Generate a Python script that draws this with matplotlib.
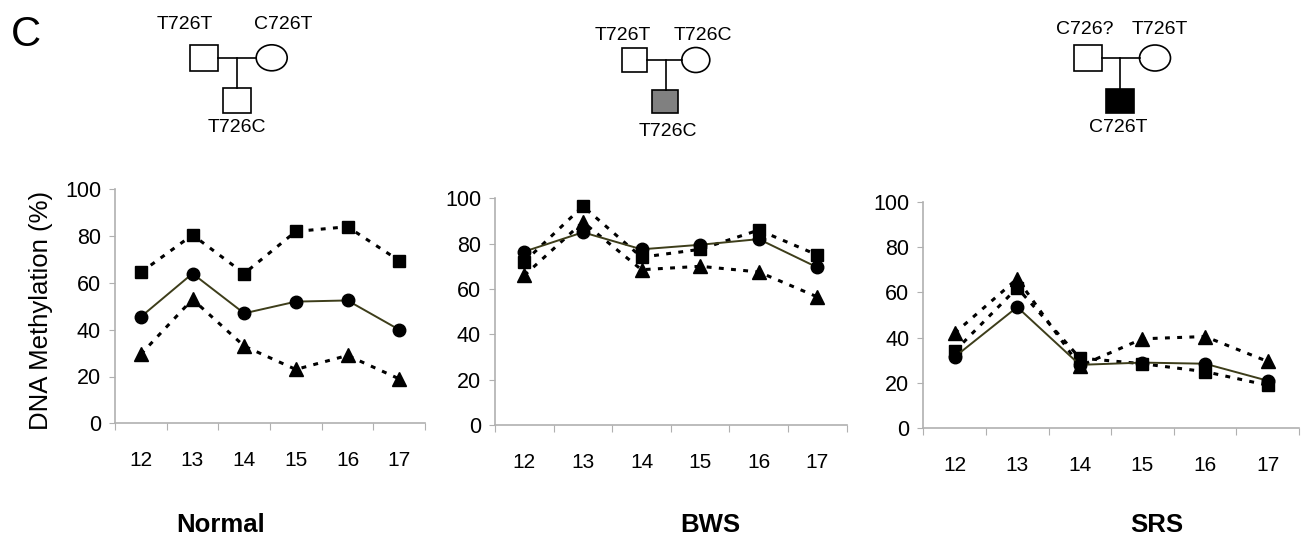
import matplotlib
matplotlib.use("Agg")
import matplotlib.pyplot as plt
from matplotlib.patches import Rectangle, Ellipse

plt.rcParams['font.family'] = ['Liberation Sans', 'DejaVu Sans']

W, H = 1307, 538

positions = ["12", "13", "14", "15", "16", "17"]
panel_titles = ["Normal", "BWS", "SRS"]

normal_sq = [64.5, 80.5, 64, 82, 84, 69.5]
normal_ci = [45.5, 64, 47, 52, 52.5, 40]
normal_tr = [29.5, 53, 33, 23, 29, 19]

bws_sq = [72, 96.5, 74, 77.5, 86, 75]
bws_ci = [76.5, 85, 77.5, 79.5, 82, 69.5]
bws_tr = [66, 89.5, 68.5, 70, 67.5, 56.5]

srs_sq = [34, 62, 31, 28.5, 25, 19]
srs_ci = [31.5, 53.5, 28, 29, 28.5, 21]
srs_tr = [42, 66, 27.5, 39.5, 40.5, 29.5]

yticks = [0, 20, 40, 60, 80, 100]

pedigree_labels = [("T726T", "C726T", "T726C"),
                   ("T726T", "T726C", "T726C"),
                   ("C726?", "T726T", "C726T")]
child_fill = ["white", "#808080", "black"]

fig = plt.figure(figsize=(W / 100, H / 100), dpi=100)

def fbox(l, r, b, t):
    return [l / W, 1 - b / H, (r - l) / W, (b - t) / H]

boxes = [fbox(115, 425, 423.3, 189.3),
         fbox(495, 846.7, 425, 198.3),
         fbox(923.3, 1299, 428.3, 201.7)]
data = [(normal_sq, normal_ci, normal_tr),
        (bws_sq, bws_ci, bws_tr),
        (srs_sq, srs_ci, srs_tr)]

spine_col = "#b0b0b0"
dot_ls = (0, (1.6, 2.4))
for box, (sq, ci, tr) in zip(boxes, data):
    ax = fig.add_axes(box)
    x = list(range(len(positions)))
    ax.plot(x, tr, linestyle=dot_ls, color="black", lw=2.2,
            marker="^", ms=10, mfc="black", mec="black", zorder=3)
    ax.plot(x, sq, linestyle=dot_ls, color="black", lw=2.2,
            marker="s", ms=8, mfc="black", mec="black", zorder=3)
    ax.plot(x, ci, linestyle="-", color="#3d3d1a", lw=1.4,
            marker="o", ms=9, mfc="black", mec="black", zorder=4)
    ax.set_xlim(-0.5, len(positions) - 0.5)
    ax.set_ylim(0, 100)
    ax.set_xticks([i - 0.5 for i in range(len(positions) + 1)])
    ax.set_xticklabels([])
    ax.set_xticks(x, minor=True)
    ax.set_xticklabels(positions, minor=True, fontsize=15)
    ax.tick_params(axis="x", which="major", length=5, color=spine_col, direction="out")
    ax.tick_params(axis="x", which="minor", length=0, pad=20)
    ax.set_yticks(yticks)
    ax.set_yticklabels([str(v) for v in yticks], fontsize=15.5)
    ax.tick_params(axis="y", length=4, color=spine_col, pad=6)
    for s in ["top", "right"]:
        ax.spines[s].set_visible(False)
    for s in ["left", "bottom"]:
        ax.spines[s].set_color(spine_col)
        ax.spines[s].set_linewidth(1.2)
    ax.patch.set_alpha(0)

# overlay for pedigrees and texts
ov = fig.add_axes([0, 0, 1, 1], zorder=-1)
ov.set_xlim(0, W)
ov.set_ylim(H, 0)
ov.axis("off")

ped_geo = [
    dict(f=(190, 218, 45, 70.7), c=(271.7, 57.8, 31, 26), k=(223, 251, 88, 113),
         vx=237, lf=(185, 24.5), lm=(283, 24.5), lk=(237, 128)),
    dict(f=(621.7, 647.3, 48, 72), c=(695.8, 60, 28, 25), k=(652, 677.7, 90, 113),
         vx=666, lf=(623, 35), lm=(703, 35), lk=(668, 132)),
    dict(f=(1074, 1102.3, 45, 70.7), c=(1155, 58, 31, 26), k=(1106, 1134, 88.7, 113.3),
         vx=1120, lf=(1085, 30), lm=(1160, 30), lk=(1118, 128)),
]
for g, labs, fill in zip(ped_geo, pedigree_labels, child_fill):
    fx0, fx1, fy0, fy1 = g["f"]
    cx, cy, cw, ch = g["c"]
    kx0, kx1, ky0, ky1 = g["k"]
    ymid = (fy0 + fy1) / 2
    ov.add_patch(Rectangle((fx0, fy0), fx1 - fx0, fy1 - fy0, fc="white", ec="black", lw=1.2))
    ov.add_patch(Ellipse((cx, cy), cw, ch, fc="white", ec="black", lw=1.2))
    ov.add_patch(Rectangle((kx0, ky0), kx1 - kx0, ky1 - ky0, fc=fill, ec="black", lw=1.2))
    ov.plot([fx1, cx - cw / 2], [ymid, ymid], color="black", lw=1.2)
    ov.plot([g["vx"], g["vx"]], [ymid, ky0], color="black", lw=1.2)
    ov.text(*g["lf"], labs[0], ha="center", va="center", fontsize=14)
    ov.text(*g["lm"], labs[1], ha="center", va="center", fontsize=14)
    ov.text(*g["lk"], labs[2], ha="center", va="center", fontsize=14)

ov.text(26, 35, "C", ha="center", va="center", fontsize=30)
ov.text(41, 310, "DNA Methylation (%)", ha="center", va="center", rotation=90, fontsize=18.5)
for tx, t in zip([221, 710, 1157], panel_titles):
    ov.text(tx, 525, t, ha="center", va="center", fontsize=18.5, fontweight="bold")

fig.savefig("out.png", dpi=100, facecolor="white")
